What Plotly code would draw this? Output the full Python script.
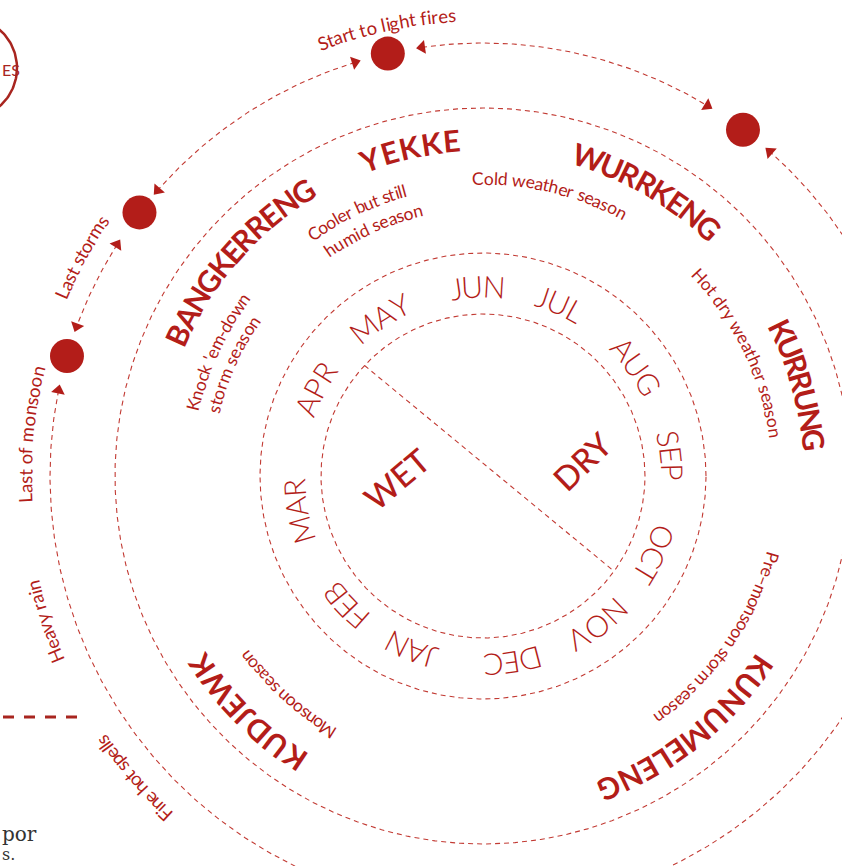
import math
import plotly.graph_objects as go

W, H = 842, 866
CX, CY = 483, 476

RED = "#b31d19"
LINE = "#c23a33"

# ---------------- data ----------------
ring_radii = [162, 223, 368]
event_radius = 433

months = ["JAN", "FEB", "MAR", "APR", "MAY", "JUN", "JUL", "AUG", "SEP", "OCT", "NOV", "DEC"]
month_angles = [-111.6, -136.5, -170.0, 152.5, 122.5, 92.4, 66.3, 35.8, 6.2, -25.0, -52.6, -81.2]
month_radius = 190

seasons = ["KUDJEWK", "BANGKERRENG", "YEKKE", "WURRKENG", "KURRUNG", "KUNUMELENG"]
season_start = [-123.8, 155.2, 109.6, 71.6, 26.0, -34.6]
season_end = [-146.0, 122.3, 95.3, 47.8, 6.2, -68.0]
season_radius = [340, 337, 337, 336, 333, 337]

season_notes = [["Monsoon season"], ["Knock 'em-down", "storm season"],
                ["Cooler but still", "humid season"], ["Cold weather season"],
                ["Hot dry weather season"], ["Pre\u2013monsoon storm season"]]
note_start = [[-121.4], [166.2, 165.9], [124.9, 124.1], [91.0], [42.8], [-15.8]]
note_end = [[-142.7], [143.5, 146.0], [105.4, 103.8], [62.2], [8.4], [-53.8]]
note_radius = [[298], [298, 277], [296, 273], [298], [295], [300]]

event_labels = ["Start to light fires", "Last storms", "Last of monsoon", "Heavy rain", "Fine hot spells"]
event_start = [110.3, 156.5, 182.8, 202.8, 226.8]
event_end = [93.9, 146.2, 166.7, 193.7, 214.8]
event_label_radius = [462, 459, 458, 463, 464]

dot_angles = [102.7, 53.1, 142.5, 163.9]
arrow_arcs = [(98.1, 58.8), (107.2, 138.7), (147.7, 159.8), (168.6, 408.5)]

halves = ["WET", "DRY"]
half_angle = [182.0, 8.6]
half_radius = [87, 100]
half_rot = [-40, -44]
divider_angles = [137.0, -36.0]

# approximate glyph advance widths (em)
CW = {
    "A": .68, "B": .63, "C": .66, "D": .73, "E": .56, "F": .53, "G": .72, "H": .75, "I": .28,
    "J": .39, "K": .66, "L": .50, "M": .88, "N": .76, "O": .79, "P": .60, "R": .63, "S": .53,
    "T": .58, "U": .73, "V": .68, "W": 1.0, "Y": .62,
    "a": .50, "b": .56, "c": .46, "d": .56, "e": .52, "f": .32, "g": .50, "h": .56, "i": .24,
    "k": .50, "l": .24, "m": .84, "n": .56, "o": .56, "p": .56, "r": .36, "s": .42, "t": .34,
    "u": .56, "v": .50, "w": .76, "y": .50, " ": .26, "'": .20, "-": .33, "\u2013": .50,
}


def pol(r, th):
    t = math.radians(th)
    return CX + r * math.cos(t), CY - r * math.sin(t)


def arc_pts(r, a0, a1, n=None):
    if n is None:
        n = max(2, int(abs(a1 - a0) * 2) + 1)
    xs, ys = [], []
    for i in range(n):
        x, y = pol(r, a0 + (a1 - a0) * i / (n - 1))
        xs.append(x)
        ys.append(y)
    return xs, ys


annotations = []


def norm(a):
    while a > 180:
        a -= 360
    while a <= -180:
        a += 360
    return a


def along(text, r, a0, a1, size, weight, color, family="Lato"):
    ws = [CW.get(c, 0.55) for c in text]
    cum, s = [], 0.0
    for w in ws:
        cum.append(s + w / 2)
        s += w
    first, last = cum[0], cum[-1]
    for c, p in zip(text, cum):
        if c == " ":
            continue
        t = (p - first) / (last - first) if last > first else 0.5
        th = a0 + t * (a1 - a0)
        x, y = pol(r, th)
        annotations.append(dict(
            x=x, y=y, xref="x", yref="y", text=c, showarrow=False,
            xanchor="center", yanchor="middle", textangle=norm(90 - th),
            font=dict(family=family, size=size, color=color, weight=weight)))


def along_centered(text, r, center, size, weight, color):
    ws = [CW.get(c, 0.55) for c in text]
    span = (sum(ws) - ws[0] / 2 - ws[-1] / 2) * size / r * 180 / math.pi
    along(text, r, center + span / 2, center - span / 2, size, weight, color)


fig = go.Figure()

# full dashed rings
for r in ring_radii:
    xs, ys = arc_pts(r, 0, 360, 721)
    fig.add_trace(go.Scatter(x=xs, y=ys, mode="lines", hoverinfo="skip",
                             line=dict(color=LINE, width=1.1, dash="5px,4px")))

# outer event arcs with arrowheads
ax_, ay_, aang = [], [], []
for a0, a1 in arrow_arcs:
    xs, ys = arc_pts(event_radius, a0, a1)
    fig.add_trace(go.Scatter(x=xs, y=ys, mode="lines", hoverinfo="skip",
                             line=dict(color=LINE, width=1.1, dash="5px,4px")))
    for e, s in ((a0, a1), (a1, a0)):
        x, y = pol(event_radius, e)
        ax_.append(x)
        ay_.append(y)
        aang.append(-e if e > s else 180 - e)
fig.add_trace(go.Scatter(x=ax_, y=ay_, mode="markers", hoverinfo="skip",
                         marker=dict(symbol="triangle-up", size=12, color=RED, angle=aang,
                                     line=dict(width=0))))

# event dots
dx, dy = zip(*[pol(event_radius, a) for a in dot_angles])
fig.add_trace(go.Scatter(x=list(dx), y=list(dy), mode="markers", hoverinfo="skip",
                         marker=dict(size=34, color=RED, line=dict(width=0))))

# wet / dry divider
vx, vy = zip(*[pol(ring_radii[0], a) for a in divider_angles])
fig.add_trace(go.Scatter(x=list(vx), y=list(vy), mode="lines", hoverinfo="skip",
                         line=dict(color=LINE, width=1.1, dash="5px,4px")))

# partial legend circle top-left (page element)
lx, ly = [], []
for i in range(181):
    t = math.radians(i * 2)
    lx.append(-34 + 51 * math.cos(t))
    ly.append(68 + 51 * math.sin(t))
fig.add_trace(go.Scatter(x=lx, y=ly, mode="lines", hoverinfo="skip",
                         line=dict(color="#a8251f", width=2.5)))

# legend dashed stroke left
fig.add_trace(go.Scatter(x=[3, 80], y=[717, 717], mode="lines", hoverinfo="skip",
                         line=dict(color="#a8251f", width=3, dash="11px,10px")))

# ---------------- text ----------------
for m, a in zip(months, month_angles):
    along_centered(m, month_radius, a, 30, 300, RED)

for name, a0, a1, r in zip(seasons, season_start, season_end, season_radius):
    along(name, r, a0, a1, 30, 700, RED)

for lines, s0, s1, rr in zip(season_notes, note_start, note_end, note_radius):
    for txt, a0, a1, r in zip(lines, s0, s1, rr):
        along(txt, r, a0, a1, 17.5, 400, RED)

for txt, a0, a1, r in zip(event_labels, event_start, event_end, event_label_radius):
    along(txt, r, a0, a1, 18.5, 400, RED)

for txt, a, r, rot in zip(halves, half_angle, half_radius, half_rot):
    x, y = pol(r, a)
    annotations.append(dict(x=x, y=y, xref="x", yref="y", text=txt, showarrow=False,
                            xanchor="center", yanchor="middle", textangle=rot,
                            font=dict(family="Lato", size=33, color=RED, weight=500)))

annotations.append(dict(x=0, y=69, xref="x", yref="y", text="ES", showarrow=False,
                        xanchor="left", yanchor="middle",
                        font=dict(family="Lato", size=16, color="#a8251f")))
annotations.append(dict(x=0, y=834, xref="x", yref="y", text="por", showarrow=False,
                        xanchor="left", yanchor="middle",
                        font=dict(family="DejaVu Serif", size=20, color="#333333")))
annotations.append(dict(x=0, y=866, xref="x", yref="y", text="s.", showarrow=False,
                        xanchor="left", yanchor="bottom",
                        font=dict(family="DejaVu Serif", size=16, color="#333333")))

fig.update_layout(
    width=W, height=H, margin=dict(l=0, r=0, t=0, b=0),
    paper_bgcolor="white", plot_bgcolor="white", showlegend=False,
    xaxis=dict(range=[0, W], visible=False, fixedrange=True),
    yaxis=dict(range=[H, 0], visible=False, fixedrange=True),
    annotations=annotations,
)

fig.write_html("out.html", config={"displayModeBar": False},
               post_script="document.body.style.margin='0';")
